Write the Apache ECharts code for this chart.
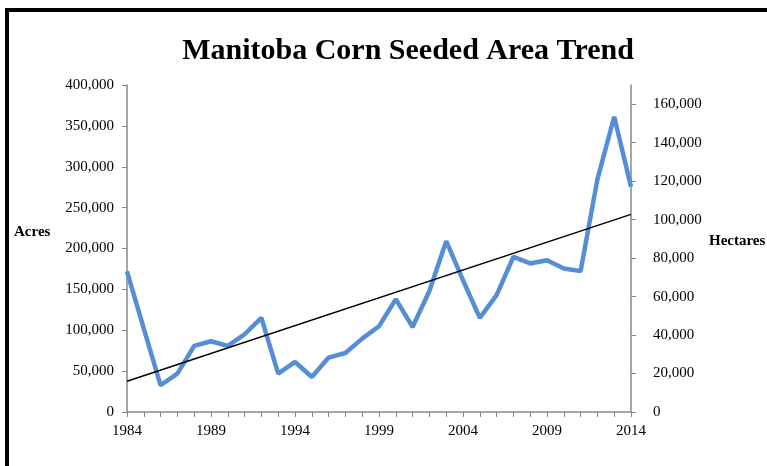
<!DOCTYPE html>
<html>
<head>
<meta charset="utf-8">
<script src="https://cdn.jsdelivr.net/npm/echarts@6/dist/echarts.min.js"></script>
<style>
  html, body { margin: 0; padding: 0; background: #fff; overflow: hidden; }
  #chart { width: 767px; height: 466px; }
  .frame {
    position: absolute; left: 5px; top: 8px; right: -10px; bottom: -10px;
    border-left: 4px solid #000; border-top: 4px solid #000;
    pointer-events: none;
  }
</style>
</head>
<body>
<div id="chart"></div>
<div class="frame"></div>
<script>
// years on the x axis
const years = []
for (let y = 1984; y <= 2014; y++) years.push(String(y))

// seeded area, acres
const acres = [
  172000, 102000, 32700, 47000, 80800, 86500, 80800, 95100, 115100, 47000,
  61200, 42800, 66600, 72200, 89800, 104900, 138000, 104000, 148100, 209000,
  161200, 115100, 142900, 189800, 181700, 185700, 175500, 172300, 284500, 361200,
  275500
]

// linear trend, only the two end points
const trendEnds = [37600, 241700]

// right axis tick values (hectares)
const hectareTicks = [0, 20000, 40000, 60000, 80000, 100000, 120000, 140000, 160000]

const trend = years.map((y, i) => {
  if (i === 0) return trendEnds[0]
  if (i === years.length - 1) return trendEnds[1]
  return null
})

const serif = '"Liberation Serif", "DejaVu Serif", serif'
const fmt = v => Number(v).toLocaleString('en-US')

let option = {
  animation: false,
  textStyle: { fontFamily: serif },
  title: {
    text: 'Manitoba Corn Seeded Area Trend',
    left: 403,
    textAlign: 'center',
    top: 31,
    textStyle: { fontFamily: serif, fontSize: 30, fontWeight: 'bold', color: '#000' }
  },
  grid: { left: 127, right: 136, top: 85, bottom: 54 },
  xAxis: {
    type: 'category',
    data: years,
    boundaryGap: false,
    axisLine: { lineStyle: { color: '#888', width: 1.5 } },
    axisTick: { interval: 0, length: 5, lineStyle: { color: '#888' } },
    axisLabel: { interval: 4, color: '#000', fontSize: 15, fontFamily: serif, margin: 12 }
  },
  yAxis: [
    {
      type: 'value',
      min: 0,
      max: 400000,
      interval: 50000,
      splitLine: { show: false },
      axisLine: { show: true, lineStyle: { color: '#888', width: 1.5 } },
      axisTick: { show: true, length: 5, lineStyle: { color: '#888' } },
      axisLabel: { color: '#000', fontSize: 15, fontFamily: serif, margin: 13, formatter: fmt }
    },
    {
      type: 'value',
      position: 'right',
      min: 0,
      max: 170000,
      splitLine: { show: false },
      axisLine: { show: true, lineStyle: { color: '#888', width: 1.5 } },
      axisTick: { show: true, length: 5, lineStyle: { color: '#888' }, customValues: hectareTicks },
      axisLabel: { color: '#000', fontSize: 15, fontFamily: serif, margin: 22, customValues: hectareTicks, formatter: fmt }
    }
  ],
  graphic: [
    { type: 'text', left: 14, top: 225, style: { text: 'Acres', font: 'bold 15px ' + serif, fill: '#000' } },
    { type: 'text', left: 709, top: 234, style: { text: 'Hectares', font: 'bold 15px ' + serif, fill: '#000' } }
  ],
  series: [
    {
      name: 'Acres',
      type: 'line',
      data: acres,
      symbol: 'none',
      lineStyle: { color: '#558ed5', width: 4.5 },
      z: 2
    },
    {
      name: 'Trend',
      type: 'line',
      data: trend,
      connectNulls: true,
      symbol: 'none',
      lineStyle: { color: '#000', width: 1.5 },
      z: 3
    }
  ]
}

echarts.init(document.getElementById('chart')).setOption(option)
</script>
</body>
</html>
